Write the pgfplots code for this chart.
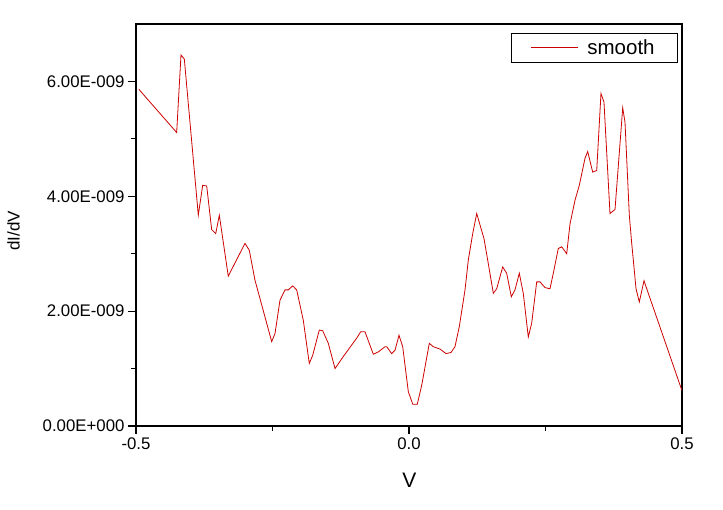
\documentclass[border=0pt]{standalone}
\usepackage{pgfplots}
\pgfplotsset{compat=1.18}
\usepackage{fontspec}
\setmainfont{Liberation Sans}
\definecolor{curve}{RGB}{205,0,0}
\begin{document}
\begin{tikzpicture}
\useasboundingbox (-136pt,-84pt) rectangle (587pt,426pt);
\begin{axis}[
  scale only axis,
  width=546pt, height=402pt,
  xmin=-0.5, xmax=0.5, ymin=0, ymax=7e-9,
  axis line style={line width=1.6pt},
  tick align=outside,
  xtick pos=bottom, ytick pos=left,
  xtick={-0.5,0,0.5}, xticklabels={-0.5,0.0,0.5},
  minor xtick={-0.25,0.25},
  ytick={0,2e-9,4e-9,6e-9},
  yticklabels={0.00E+000,2.00E-009,4.00E-009,6.00E-009},
  minor ytick={1e-9,3e-9,5e-9},
  scaled y ticks=false,
  major tick length=8pt, minor tick length=5pt,
  every tick/.style={black, line width=1.2pt},
  /pgf/number format/assume math mode=true,
  tick label style={font=\fontsize{16.8}{19}\selectfont},
  xlabel={V}, ylabel={dI/dV},
  xlabel style={at={(axis description cs:0.5005,-0.1343)}, anchor=center, font=\fontsize{21}{24}\selectfont},
  ylabel style={at={(axis description cs:-0.2244,0.485)}, anchor=center, rotate=0, font=\fontsize{17}{20}\selectfont},
  legend style={at={(axis description cs:0.9927,0.9769)}, anchor=north east,
    draw=black, line width=0.8pt, inner xsep=0pt, inner ysep=4pt,
    font=\fontsize{20.5}{24}\selectfont,
    nodes={inner xsep=0pt}},
  legend cell align=left,
  legend image code/.code={\path[draw=none] (-20pt,0pt) (56pt,0pt); \draw[#1] (0pt,0pt) -- (47pt,0pt);},
]
\addplot[curve, line width=0.8pt] coordinates {
(-0.4945,5.86e-9) (-0.4255,5.11e-9) (-0.4176,6.46e-9) (-0.4115,6.39e-9)
(-0.3859,3.67e-9) (-0.3779,4.19e-9) (-0.3705,4.18e-9) (-0.3614,3.42e-9)
(-0.3540,3.35e-9) (-0.3474,3.67e-9) (-0.3310,2.61e-9) (-0.3004,3.18e-9)
(-0.2925,3.06e-9) (-0.2821,2.54e-9) (-0.2515,1.47e-9) (-0.2454,1.61e-9)
(-0.2363,2.19e-9) (-0.2271,2.37e-9) (-0.2211,2.37e-9) (-0.2130,2.44e-9)
(-0.2057,2.37e-9) (-0.1936,1.84e-9) (-0.1826,1.09e-9) (-0.1764,1.23e-9)
(-0.1643,1.67e-9) (-0.1581,1.66e-9) (-0.1478,1.44e-9) (-0.1355,1.00e-9)
(-0.1203,1.21e-9) (-0.0958,1.53e-9) (-0.0885,1.64e-9) (-0.0806,1.64e-9)
(-0.0654,1.25e-9) (-0.0562,1.29e-9) (-0.0440,1.38e-9) (-0.0408,1.38e-9)
(-0.0317,1.26e-9) (-0.0256,1.32e-9) (-0.0183,1.58e-9) (-0.0115,1.38e-9)
(-0.0013,0.60e-9) (0.0068,0.38e-9) (0.0152,0.38e-9) (0.0233,0.71e-9)
(0.0372,1.44e-9) (0.0445,1.38e-9) (0.0568,1.34e-9) (0.0678,1.26e-9)
(0.0769,1.28e-9) (0.0842,1.38e-9) (0.0921,1.73e-9) (0.1026,2.37e-9)
(0.1086,2.89e-9) (0.1167,3.35e-9) (0.1240,3.70e-9) (0.1374,3.26e-9)
(0.1452,2.83e-9) (0.1544,2.31e-9) (0.1606,2.39e-9) (0.1716,2.77e-9)
(0.1789,2.66e-9) (0.1874,2.25e-9) (0.1941,2.37e-9) (0.2020,2.66e-9)
(0.2093,2.31e-9) (0.2185,1.55e-9) (0.2247,1.79e-9) (0.2339,2.51e-9)
(0.2399,2.51e-9) (0.2491,2.41e-9) (0.2582,2.39e-9) (0.2643,2.66e-9)
(0.2734,3.09e-9) (0.2797,3.12e-9) (0.2888,3.00e-9) (0.2949,3.52e-9)
(0.3040,3.93e-9) (0.3119,4.19e-9) (0.3223,4.66e-9) (0.3273,4.78e-9)
(0.3364,4.42e-9) (0.3438,4.45e-9) (0.3516,5.79e-9) (0.3571,5.64e-9)
(0.3681,3.70e-9) (0.3773,3.77e-9) (0.3914,5.54e-9) (0.3956,5.29e-9)
(0.4035,3.67e-9) (0.4079,3.18e-9) (0.4158,2.39e-9) (0.4218,2.16e-9)
(0.4304,2.53e-9) (0.4383,2.31e-9) (0.4994,0.63e-9)
};
\addlegendentry{smooth\hspace*{23pt}}
\end{axis}
\end{tikzpicture}
\end{document}
